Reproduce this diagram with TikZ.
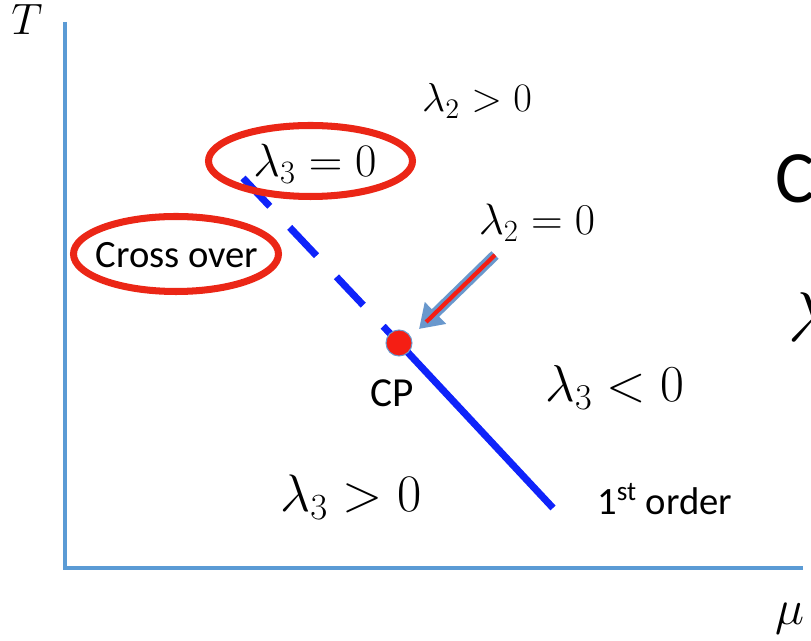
\RequirePackage{fix-cm}
\documentclass[tikz,border=0pt]{standalone}
\usepackage{fontspec}
\newfontfamily\calfont{Carlito}
\usepackage{tikz}
\usetikzlibrary{arrows.meta, shapes.geometric}
\definecolor{axis_blue}{RGB}{91, 155, 213}
\definecolor{line_blue}{RGB}{15, 35, 250}
\definecolor{ring_red}{RGB}{235, 38, 22}
\definecolor{dot_red}{RGB}{245, 30, 20}
\definecolor{arrow_blue}{RGB}{105, 152, 205}

\begin{document}
\begin{tikzpicture}[>=Stealth,
      axis/.style={draw=axis_blue, line width=2.8pt, line join=miter},
      phase/.style={draw=line_blue, line width=4pt},
      crossline/.style={phase, dash pattern=on 0.78cm off 0.58cm},
      ring/.style={draw=ring_red, line width=4pt, ellipse, inner sep=0pt},
      dot/.style={circle, fill=dot_red, draw=arrow_blue, line width=0.6pt,
        minimum size=0.52cm, inner sep=0pt},
      lab/.style={anchor=base, inner sep=0pt},
      word/.style={lab, font=\calfont\fontsize{22}{26}\selectfont}]

    \useasboundingbox (0,0) rectangle (16.22,12.82);
    \clip (0,0) rectangle (16.22,12.82);

    %% ---- axes -----------------------------------------------------------
    \coordinate (ytop) at (1.30,12.38);
    \coordinate (xend) at (16.06,1.46);
    \draw[axis] (ytop) |- (xend);
    \node[lab, font=\fontsize{25}{30}\selectfont] (tlab) at (0.54,12.12) {$T$};
    \node[lab, font=\fontsize{28}{32}\selectfont] (mulab) at (15.80,0.32) {$\mu$};

    %% ---- phase line -----------------------------------------------------
    \coordinate (cstart) at (4.86,9.26);
    \coordinate (cpt) at (7.98,5.96);
    \coordinate (fend) at (11.06,2.66);
    \draw[crossline] (cstart) -- (cpt);
    \draw[phase] (cpt) -- (fend);

    %% ---- arrow to the critical point ------------------------------------
    \coordinate (astart) at (9.90,7.72);
    \coordinate (atip) at (8.38,6.24);
    \draw[arrow_blue, line width=6pt,
      -{Triangle[length=0.46cm, width=0.58cm]}] (astart) -- (atip);
    \draw[dot_red, line width=2.4pt, shorten >=0.2cm] (astart) -- (atip);
    \node[dot] (cp) at (cpt) {};

    %% ---- labels ---------------------------------------------------------
    \node[lab, font=\fontsize{23}{27}\selectfont] (l2pos) at (9.54,10.58) {$\lambda_2 > 0$};
    \node[lab, font=\fontsize{26.5}{31}\selectfont] (l3zero) at (6.30,9.28) {$\lambda_3 = 0$};
    \node[lab, font=\fontsize{25}{30}\selectfont] (l2zero) at (10.74,8.12) {$\lambda_2 = 0$};
    \node[lab, font=\fontsize{29.5}{34}\selectfont] (l3neg) at (12.30,4.78) {$\lambda_3 < 0$};
    \node[lab, font=\fontsize{30}{35}\selectfont] (l3pos) at (7.02,2.58) {$\lambda_3 > 0$};
    \node[word] (xover) at (3.54,7.46) {Cross over};
    \node[word, font=\calfont\fontsize{23.5}{28}\selectfont] (cplab) at (7.84,4.68) {CP};
    \node[word, anchor=base west, font=\calfont\fontsize{22}{26}\selectfont] (order)
      at (11.94,2.52) {1\textsuperscript{st} order};

    \node[ring, minimum width=4.08cm, minimum height=1.42cm] (l3ring) at (6.21,9.60) {};
    \node[ring, minimum width=4.10cm, minimum height=1.50cm] (xring) at (3.52,7.74) {};

    %% ---- cut at the right edge ------------------------------------------
    \node[lab, anchor=base west, font=\calfont\fontsize{42}{48}\selectfont] (cutc)
      at (15.50,8.76) {C};
    \node[lab, anchor=base west, font=\fontsize{40}{46}\selectfont] (cutl)
      at (15.76,5.98) {$\lambda$};
  \end{tikzpicture}
\end{document}
